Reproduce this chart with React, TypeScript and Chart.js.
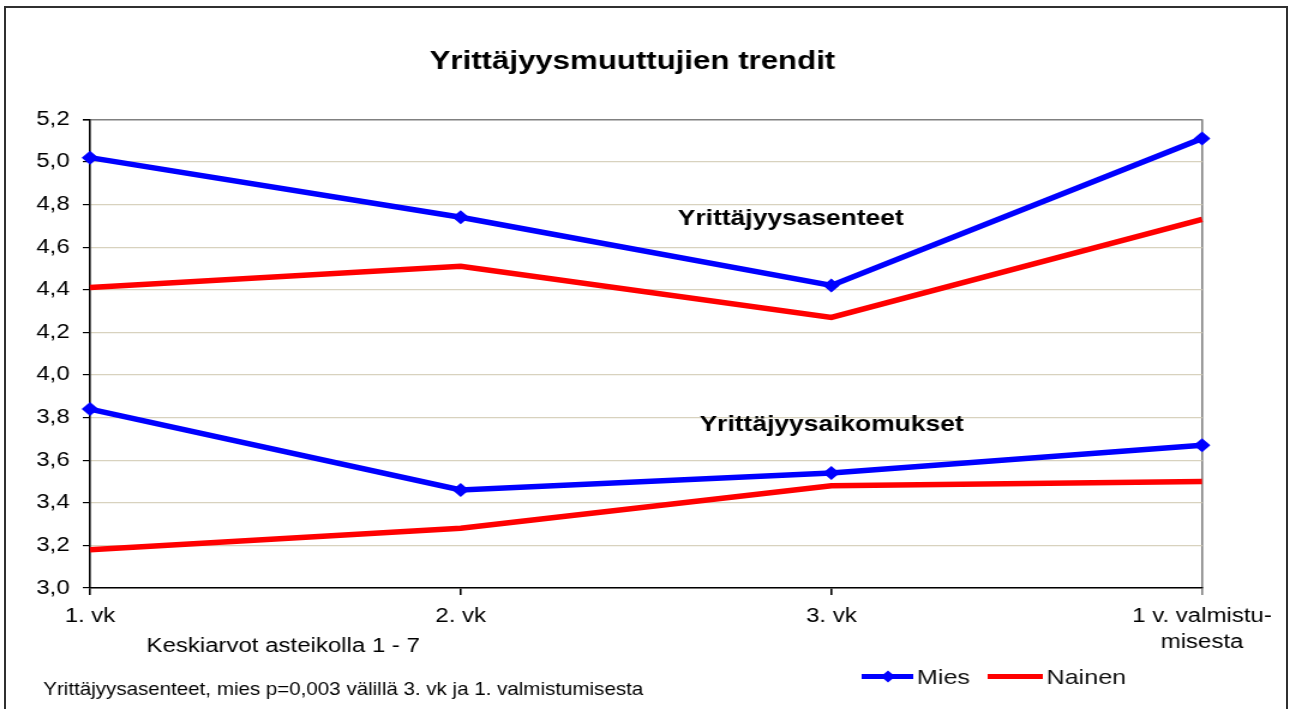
import React, { useEffect, useRef } from "react";
import { Chart, registerables } from "chart.js";

Chart.register(...registerables);

// ---- data ----
const categories: (string | string[])[] = ["1. vk", "2. vk", "3. vk", ["1 v. valmistu-", "misesta"]];
const miesAsenteet = [5.02, 4.74, 4.42, 5.11];
const nainenAsenteet = [4.41, 4.51, 4.27, 4.73];
const miesAikomukset = [3.84, 3.46, 3.54, 3.67];
const nainenAikomukset = [3.18, 3.28, 3.48, 3.5];
const yMin = 3.0;
const yMax = 5.2;
const yStep = 0.2;

const titleText = "Yrittäjyysmuuttujien trendit";
const groupLabels = ["Yrittäjyysasenteet", "Yrittäjyysaikomukset"];
const noteText = "Keskiarvot asteikolla 1 - 7";
const footnoteText = "Yrittäjyysasenteet, mies p=0,003 välillä 3. vk ja 1. valmistumisesta";
const legendLabels = ["Mies", "Nainen"];

const BLUE = "#0000ff";
const RED = "#ff0000";
const FONT = "'Liberation Sans', Arial, Helvetica, sans-serif";

// canvas backing width (the picture is stretched horizontally by 1.2)
const CW = 1075;
const CH = 709;

const decorPlugin = {
  id: "decor",
  afterDraw(chart: any) {
    const ctx = chart.ctx as CanvasRenderingContext2D;
    ctx.save();
    ctx.fillStyle = "#000";
    ctx.textAlign = "center";
    ctx.textBaseline = "alphabetic";

    ctx.font = `bold 26px ${FONT}`;
    ctx.fillText(titleText, 527, 69);

    ctx.font = `bold 22px ${FONT}`;
    ctx.fillText(groupLabels[0], 659, 225);
    ctx.fillText(groupLabels[1], 693, 430.5);

    ctx.font = `20px ${FONT}`;
    ctx.fillText(noteText, 236, 652);

    // footnote (narrower text box)
    ctx.save();
    ctx.font = `19px ${FONT}`;
    const w = ctx.measureText(footnoteText).width;
    const sx = 500 / w;
    ctx.translate(286, 695);
    ctx.scale(sx, 1);
    ctx.fillText(footnoteText, 0, 0);
    ctx.restore();

    // legend
    const ly = 676.5;
    ctx.lineCap = "butt";
    ctx.lineWidth = 5;
    ctx.strokeStyle = BLUE;
    ctx.beginPath();
    ctx.moveTo(718, ly);
    ctx.lineTo(761, ly);
    ctx.stroke();
    ctx.fillStyle = BLUE;
    ctx.beginPath();
    const dx = 740, r = 6;
    ctx.moveTo(dx, ly - r);
    ctx.lineTo(dx + r, ly);
    ctx.lineTo(dx, ly + r);
    ctx.lineTo(dx - r, ly);
    ctx.closePath();
    ctx.fill();

    ctx.strokeStyle = RED;
    ctx.beginPath();
    ctx.moveTo(823, ly);
    ctx.lineTo(869, ly);
    ctx.stroke();

    ctx.fillStyle = "#111";
    ctx.textAlign = "left";
    ctx.font = `21px ${FONT}`;
    ctx.fillText(legendLabels[0], 764, 683.5);
    ctx.fillText(legendLabels[1], 872, 683.5);

    ctx.restore();
  },
};

export default function App() {
  const ref = useRef<HTMLCanvasElement>(null);

  useEffect(() => {
    const canvas = ref.current;
    if (!canvas) return;
    const lineW = 5.5;
    const chart = new Chart(canvas, {
      type: "line",
      data: {
        labels: categories as any,
        datasets: [
          {
            label: "Mies asenteet",
            data: miesAsenteet,
            borderColor: BLUE,
            backgroundColor: BLUE,
            borderWidth: lineW,
            pointStyle: "rectRot",
            pointRadius: 7,
            pointBackgroundColor: BLUE,
            pointBorderWidth: 0,
            tension: 0,
          },
          {
            label: "Nainen asenteet",
            data: nainenAsenteet,
            borderColor: RED,
            backgroundColor: RED,
            borderWidth: lineW,
            pointRadius: 0,
            tension: 0,
          },
          {
            label: "Mies aikomukset",
            data: miesAikomukset,
            borderColor: BLUE,
            backgroundColor: BLUE,
            borderWidth: lineW,
            pointStyle: "rectRot",
            pointRadius: 7,
            pointBackgroundColor: BLUE,
            pointBorderWidth: 0,
            tension: 0,
          },
          {
            label: "Nainen aikomukset",
            data: nainenAikomukset,
            borderColor: RED,
            backgroundColor: RED,
            borderWidth: lineW,
            pointRadius: 0,
            tension: 0,
          },
        ],
      },
      options: {
        responsive: false,
        animation: false,
        devicePixelRatio: 1,
        events: [],
        layout: { padding: { left: 0, right: CW - 1001.67, top: 119.3, bottom: 0 } },
        plugins: {
          legend: { display: false },
          title: { display: false },
          tooltip: { enabled: false },
        },
        scales: {
          x: {
            type: "category",
            offset: false,
            afterFit: (scale: any) => {
              scale.height = CH - 588;
            },
            grid: {
              drawOnChartArea: true,
              color: (c: any) => (c.index === categories.length - 1 ? "#808080" : "rgba(0,0,0,0)"),
              tickColor: (c: any) => (c.index === categories.length - 1 ? "#808080" : "#000"),
              lineWidth: 1.6,
              tickLength: 7,
            },
            border: { color: "#000", width: 1.6 },
            ticks: {
              autoSkip: false,
              maxRotation: 0,
              minRotation: 0,
              padding: 8,
              color: "#000",
              font: { family: FONT, size: 20, lineHeight: 1.33 },
            },
          },
          y: {
            type: "linear",
            min: yMin,
            max: yMax,
            afterFit: (scale: any) => {
              scale.width = 75;
            },
            grid: {
              color: (c: any) => {
                const v = c.tick ? c.tick.value : 0;
                return Math.abs(v - yMax) < 1e-6 ? "#808080" : "#d8d2be";
              },
              lineWidth: (c: any) => {
                const v = c.tick ? c.tick.value : 0;
                return Math.abs(v - yMax) < 1e-6 ? 1.6 : 1.2;
              },
              tickColor: "#000",
              tickLength: 6,
            },
            border: { color: "#000", width: 1.6 },
            ticks: {
              stepSize: yStep,
              padding: 11,
              color: "#000",
              font: { family: FONT, size: 20 },
              callback: (v: any) => Number(v).toFixed(1).replace(".", ","),
            },
          },
        },
      },
      plugins: [decorPlugin],
    } as any);
    return () => chart.destroy();
  }, []);

  return (
    <div
      style={{
        position: "absolute",
        left: 0,
        top: 0,
        width: 1290,
        height: 709,
        background: "#fff",
        overflow: "hidden",
      }}
    >
      <canvas
        ref={ref}
        width={CW}
        height={CH}
        style={{ width: "1290px", height: "709px", display: "block" }}
      />
      <div
        style={{
          position: "absolute",
          left: 4,
          top: 6,
          width: 1284,
          height: 720,
          border: "2px solid #303030",
          boxSizing: "border-box",
          pointerEvents: "none",
        }}
      />
    </div>
  );
}
